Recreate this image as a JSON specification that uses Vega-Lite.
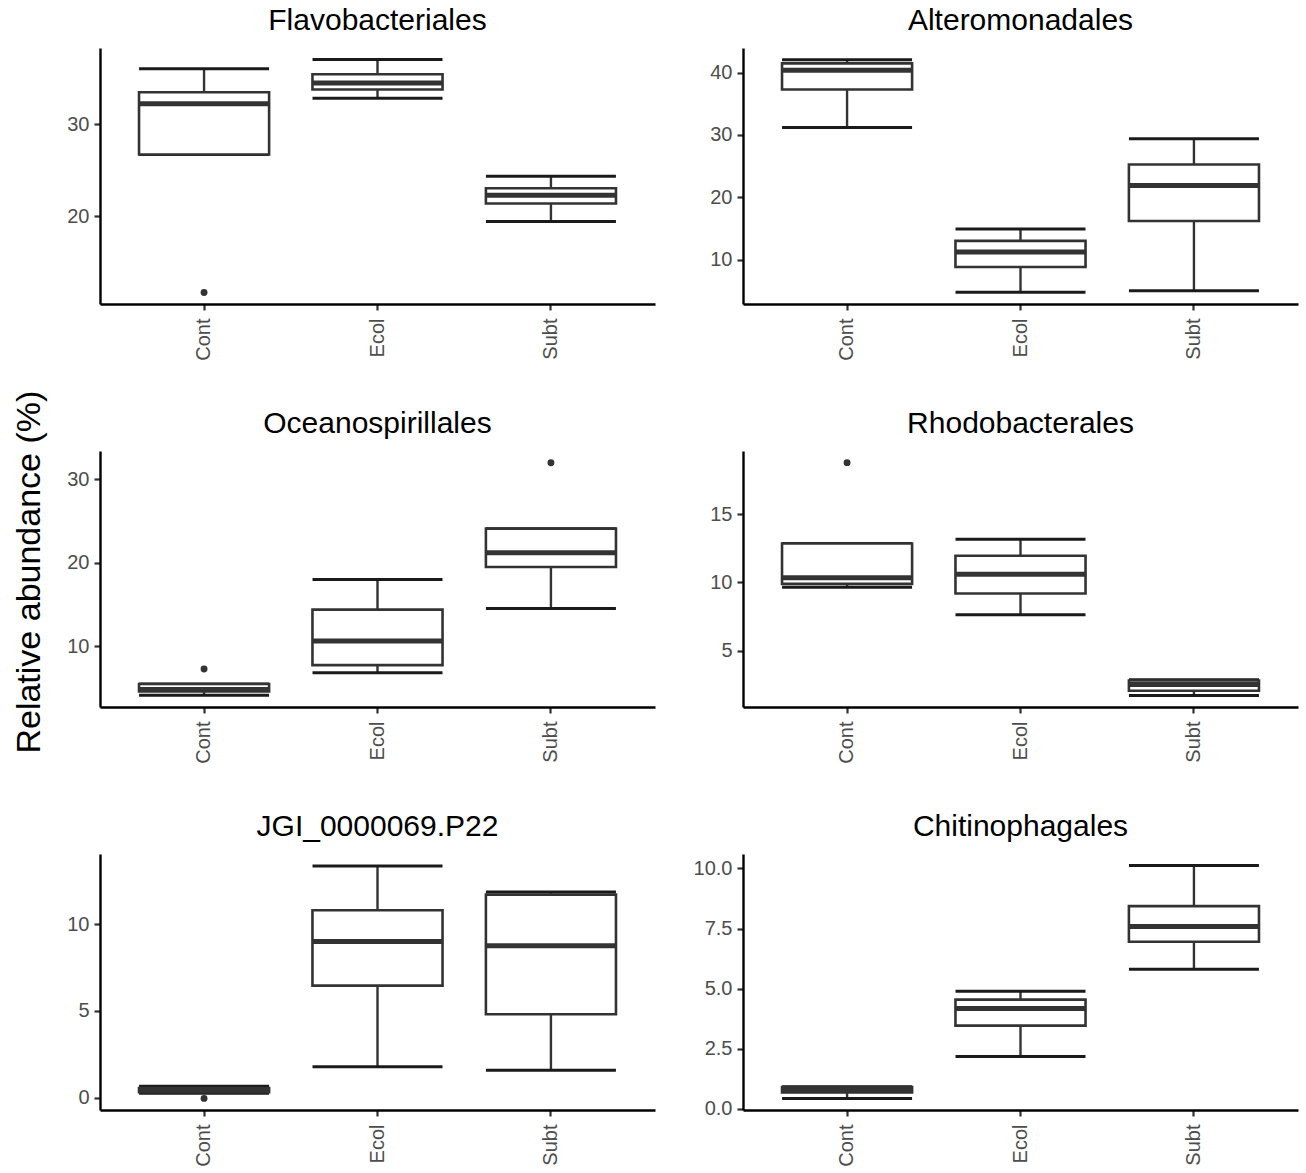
{
  "$schema": "https://vega.github.io/schema/vega-lite/v6.json",
  "padding": {"left": 12, "top": 6, "right": 5, "bottom": 0},
  "background": "white",
  "title": {"text": "Relative abundance (%)", "orient": "left", "anchor": "middle", "fontSize": 34, "fontWeight": "normal", "font": "Liberation Sans", "color": "#000", "offset": 20, "dx": 14},
  "datasets": {
    "boxes": [
      {"panel": "Flavobacteriales", "group": "Cont", "lower": 26.7, "q1": 26.7, "median": 32.2, "q3": 33.45, "upper": 36.0, "outlier": 11.75},
      {"panel": "Flavobacteriales", "group": "Ecol", "lower": 32.8, "q1": 33.75, "median": 34.45, "q3": 35.4, "upper": 37.0, "outlier": null},
      {"panel": "Flavobacteriales", "group": "Subt", "lower": 19.45, "q1": 21.4, "median": 22.3, "q3": 23.05, "upper": 24.35, "outlier": null},
      {"panel": "Alteromonadales", "group": "Cont", "lower": 31.2, "q1": 37.3, "median": 40.4, "q3": 41.5, "upper": 42.1, "outlier": null},
      {"panel": "Alteromonadales", "group": "Ecol", "lower": 4.75, "q1": 8.8, "median": 11.2, "q3": 13.0, "upper": 14.9, "outlier": null},
      {"panel": "Alteromonadales", "group": "Subt", "lower": 5.0, "q1": 16.2, "median": 21.9, "q3": 25.25, "upper": 29.4, "outlier": null},
      {"panel": "Oceanospirillales", "group": "Cont", "lower": 4.15, "q1": 4.6, "median": 4.85, "q3": 5.5, "upper": 5.5, "outlier": 7.3},
      {"panel": "Oceanospirillales", "group": "Ecol", "lower": 6.85, "q1": 7.75, "median": 10.65, "q3": 14.4, "upper": 18.0, "outlier": null},
      {"panel": "Oceanospirillales", "group": "Subt", "lower": 14.55, "q1": 19.5, "median": 21.2, "q3": 24.1, "upper": 24.1, "outlier": 32.0},
      {"panel": "Rhodobacterales", "group": "Cont", "lower": 9.65, "q1": 9.9, "median": 10.35, "q3": 12.85, "upper": 12.85, "outlier": 18.75},
      {"panel": "Rhodobacterales", "group": "Ecol", "lower": 7.65, "q1": 9.2, "median": 10.6, "q3": 11.95, "upper": 13.15, "outlier": null},
      {"panel": "Rhodobacterales", "group": "Subt", "lower": 1.75, "q1": 2.1, "median": 2.55, "q3": 2.85, "upper": 2.9, "outlier": null},
      {"panel": "JGI_0000069.P22", "group": "Cont", "lower": 0.25, "q1": 0.3, "median": 0.42, "q3": 0.55, "upper": 0.65, "outlier": -0.05},
      {"panel": "JGI_0000069.P22", "group": "Ecol", "lower": 1.77, "q1": 6.45, "median": 9.0, "q3": 10.8, "upper": 13.35, "outlier": null},
      {"panel": "JGI_0000069.P22", "group": "Subt", "lower": 1.57, "q1": 4.8, "median": 8.75, "q3": 11.7, "upper": 11.85, "outlier": null},
      {"panel": "Chitinophagales", "group": "Cont", "lower": 0.43, "q1": 0.68, "median": 0.78, "q3": 0.9, "upper": 0.92, "outlier": null},
      {"panel": "Chitinophagales", "group": "Ecol", "lower": 2.18, "q1": 3.46, "median": 4.17, "q3": 4.54, "upper": 4.89, "outlier": null},
      {"panel": "Chitinophagales", "group": "Subt", "lower": 5.81, "q1": 6.95, "median": 7.58, "q3": 8.43, "upper": 10.12, "outlier": null}
    ]
  },
  "data": {"name": "boxes"},
  "columns": 2,
  "spacing": {"row": 48, "column": 38},
  "concat": [
    {
      "title": "Flavobacteriales", "width": 555, "height": 256,
      "transform": [{"filter": "datum.panel === 'Flavobacteriales'"}],
      "encoding": {"x": {"field": "group", "type": "nominal", "title": null, "scale": {"type": "band", "paddingInner": 0.25, "paddingOuter": 0.225}}},
      "layer": [
        {"mark": {"type": "rule", "color": "#333333", "strokeWidth": 2.4}, "encoding": {"y": {"field": "lower", "type": "quantitative", "title": null, "scale": {"domain": [10.5, 38.25], "nice": false, "zero": false}, "axis": {"values": [20, 30]}}, "y2": {"field": "upper"}}},
        {"mark": {"type": "tick", "color": "#1a1a1a", "thickness": 3, "size": 130, "opacity": 1}, "encoding": {"y": {"field": "lower", "type": "quantitative"}}},
        {"mark": {"type": "tick", "color": "#1a1a1a", "thickness": 3, "size": 130, "opacity": 1}, "encoding": {"y": {"field": "upper", "type": "quantitative"}}},
        {"mark": {"type": "bar", "fill": "white", "stroke": "#333333", "strokeWidth": 2.6, "opacity": 1}, "encoding": {"y": {"field": "q1", "type": "quantitative"}, "y2": {"field": "q3"}}},
        {"mark": {"type": "tick", "color": "#333333", "thickness": 5, "size": 130, "opacity": 1}, "encoding": {"y": {"field": "median", "type": "quantitative"}}},
        {"mark": {"type": "point", "filled": true, "color": "#333333", "size": 48, "opacity": 1}, "encoding": {"y": {"field": "outlier", "type": "quantitative"}}}
      ]
    },
    {
      "title": "Alteromonadales", "width": 555, "height": 256,
      "transform": [{"filter": "datum.panel === 'Alteromonadales'"}],
      "encoding": {"x": {"field": "group", "type": "nominal", "title": null, "scale": {"type": "band", "paddingInner": 0.25, "paddingOuter": 0.225}}},
      "layer": [
        {"mark": {"type": "rule", "color": "#333333", "strokeWidth": 2.4}, "encoding": {"y": {"field": "lower", "type": "quantitative", "title": null, "scale": {"domain": [2.86, 43.97], "nice": false, "zero": false}, "axis": {"values": [10, 20, 30, 40]}}, "y2": {"field": "upper"}}},
        {"mark": {"type": "tick", "color": "#1a1a1a", "thickness": 3, "size": 130, "opacity": 1}, "encoding": {"y": {"field": "lower", "type": "quantitative"}}},
        {"mark": {"type": "tick", "color": "#1a1a1a", "thickness": 3, "size": 130, "opacity": 1}, "encoding": {"y": {"field": "upper", "type": "quantitative"}}},
        {"mark": {"type": "bar", "fill": "white", "stroke": "#333333", "strokeWidth": 2.6, "opacity": 1}, "encoding": {"y": {"field": "q1", "type": "quantitative"}, "y2": {"field": "q3"}}},
        {"mark": {"type": "tick", "color": "#333333", "thickness": 5, "size": 130, "opacity": 1}, "encoding": {"y": {"field": "median", "type": "quantitative"}}},
        {"mark": {"type": "point", "filled": true, "color": "#333333", "size": 48, "opacity": 1}, "encoding": {"y": {"field": "outlier", "type": "quantitative"}}}
      ]
    },
    {
      "title": "Oceanospirillales", "width": 555, "height": 256,
      "transform": [{"filter": "datum.panel === 'Oceanospirillales'"}],
      "encoding": {"x": {"field": "group", "type": "nominal", "title": null, "scale": {"type": "band", "paddingInner": 0.25, "paddingOuter": 0.225}}},
      "layer": [
        {"mark": {"type": "rule", "color": "#333333", "strokeWidth": 2.4}, "encoding": {"y": {"field": "lower", "type": "quantitative", "title": null, "scale": {"domain": [2.74, 33.4], "nice": false, "zero": false}, "axis": {"values": [10, 20, 30]}}, "y2": {"field": "upper"}}},
        {"mark": {"type": "tick", "color": "#1a1a1a", "thickness": 3, "size": 130, "opacity": 1}, "encoding": {"y": {"field": "lower", "type": "quantitative"}}},
        {"mark": {"type": "tick", "color": "#1a1a1a", "thickness": 3, "size": 130, "opacity": 1}, "encoding": {"y": {"field": "upper", "type": "quantitative"}}},
        {"mark": {"type": "bar", "fill": "white", "stroke": "#333333", "strokeWidth": 2.6, "opacity": 1}, "encoding": {"y": {"field": "q1", "type": "quantitative"}, "y2": {"field": "q3"}}},
        {"mark": {"type": "tick", "color": "#333333", "thickness": 5, "size": 130, "opacity": 1}, "encoding": {"y": {"field": "median", "type": "quantitative"}}},
        {"mark": {"type": "point", "filled": true, "color": "#333333", "size": 48, "opacity": 1}, "encoding": {"y": {"field": "outlier", "type": "quantitative"}}}
      ]
    },
    {
      "title": "Rhodobacterales", "width": 555, "height": 256,
      "transform": [{"filter": "datum.panel === 'Rhodobacterales'"}],
      "encoding": {"x": {"field": "group", "type": "nominal", "title": null, "scale": {"type": "band", "paddingInner": 0.25, "paddingOuter": 0.225}}},
      "layer": [
        {"mark": {"type": "rule", "color": "#333333", "strokeWidth": 2.4}, "encoding": {"y": {"field": "lower", "type": "quantitative", "title": null, "scale": {"domain": [0.91, 19.6], "nice": false, "zero": false}, "axis": {"values": [5, 10, 15]}}, "y2": {"field": "upper"}}},
        {"mark": {"type": "tick", "color": "#1a1a1a", "thickness": 3, "size": 130, "opacity": 1}, "encoding": {"y": {"field": "lower", "type": "quantitative"}}},
        {"mark": {"type": "tick", "color": "#1a1a1a", "thickness": 3, "size": 130, "opacity": 1}, "encoding": {"y": {"field": "upper", "type": "quantitative"}}},
        {"mark": {"type": "bar", "fill": "white", "stroke": "#333333", "strokeWidth": 2.6, "opacity": 1}, "encoding": {"y": {"field": "q1", "type": "quantitative"}, "y2": {"field": "q3"}}},
        {"mark": {"type": "tick", "color": "#333333", "thickness": 5, "size": 130, "opacity": 1}, "encoding": {"y": {"field": "median", "type": "quantitative"}}},
        {"mark": {"type": "point", "filled": true, "color": "#333333", "size": 48, "opacity": 1}, "encoding": {"y": {"field": "outlier", "type": "quantitative"}}}
      ]
    },
    {
      "title": "JGI_0000069.P22", "width": 555, "height": 256,
      "transform": [{"filter": "datum.panel === 'JGI_0000069.P22'"}],
      "encoding": {"x": {"field": "group", "type": "nominal", "title": null, "scale": {"type": "band", "paddingInner": 0.25, "paddingOuter": 0.225}}},
      "layer": [
        {"mark": {"type": "rule", "color": "#333333", "strokeWidth": 2.4}, "encoding": {"y": {"field": "lower", "type": "quantitative", "title": null, "scale": {"domain": [-0.72, 14.04], "nice": false, "zero": false}, "axis": {"values": [0, 5, 10]}}, "y2": {"field": "upper"}}},
        {"mark": {"type": "tick", "color": "#1a1a1a", "thickness": 3, "size": 130, "opacity": 1}, "encoding": {"y": {"field": "lower", "type": "quantitative"}}},
        {"mark": {"type": "tick", "color": "#1a1a1a", "thickness": 3, "size": 130, "opacity": 1}, "encoding": {"y": {"field": "upper", "type": "quantitative"}}},
        {"mark": {"type": "bar", "fill": "white", "stroke": "#333333", "strokeWidth": 2.6, "opacity": 1}, "encoding": {"y": {"field": "q1", "type": "quantitative"}, "y2": {"field": "q3"}}},
        {"mark": {"type": "tick", "color": "#333333", "thickness": 5, "size": 130, "opacity": 1}, "encoding": {"y": {"field": "median", "type": "quantitative"}}},
        {"mark": {"type": "point", "filled": true, "color": "#333333", "size": 48, "opacity": 1}, "encoding": {"y": {"field": "outlier", "type": "quantitative"}}}
      ]
    },
    {
      "title": "Chitinophagales", "width": 555, "height": 256,
      "transform": [{"filter": "datum.panel === 'Chitinophagales'"}],
      "encoding": {"x": {"field": "group", "type": "nominal", "title": null, "scale": {"type": "band", "paddingInner": 0.25, "paddingOuter": 0.225}}},
      "layer": [
        {"mark": {"type": "rule", "color": "#333333", "strokeWidth": 2.4}, "encoding": {"y": {"field": "lower", "type": "quantitative", "title": null, "scale": {"domain": [-0.05, 10.6], "nice": false, "zero": false}, "axis": {"values": [0, 2.5, 5, 7.5, 10], "format": ".1f"}}, "y2": {"field": "upper"}}},
        {"mark": {"type": "tick", "color": "#1a1a1a", "thickness": 3, "size": 130, "opacity": 1}, "encoding": {"y": {"field": "lower", "type": "quantitative"}}},
        {"mark": {"type": "tick", "color": "#1a1a1a", "thickness": 3, "size": 130, "opacity": 1}, "encoding": {"y": {"field": "upper", "type": "quantitative"}}},
        {"mark": {"type": "bar", "fill": "white", "stroke": "#333333", "strokeWidth": 2.6, "opacity": 1}, "encoding": {"y": {"field": "q1", "type": "quantitative"}, "y2": {"field": "q3"}}},
        {"mark": {"type": "tick", "color": "#333333", "thickness": 5, "size": 130, "opacity": 1}, "encoding": {"y": {"field": "median", "type": "quantitative"}}},
        {"mark": {"type": "point", "filled": true, "color": "#333333", "size": 48, "opacity": 1}, "encoding": {"y": {"field": "outlier", "type": "quantitative"}}}
      ]
    }
  ],
  "config": {
    "view": {"stroke": null},
    "axis": {"domainColor": "#000000", "domainWidth": 2.4, "tickColor": "#333333", "tickWidth": 2.2, "tickSize": 6, "labelColor": "#4d4d4d", "labelFont": "Liberation Sans", "labelFontSize": 20, "grid": false},
    "axisX": {"labelAngle": 270, "labelPadding": 8, "labelAlign": "right", "labelBaseline": "middle"},
    "axisY": {"labelPadding": 5},
    "title": {"font": "Liberation Sans", "fontSize": 30, "fontWeight": "normal", "color": "#000000", "offset": 12, "anchor": "middle"}
  }
}
